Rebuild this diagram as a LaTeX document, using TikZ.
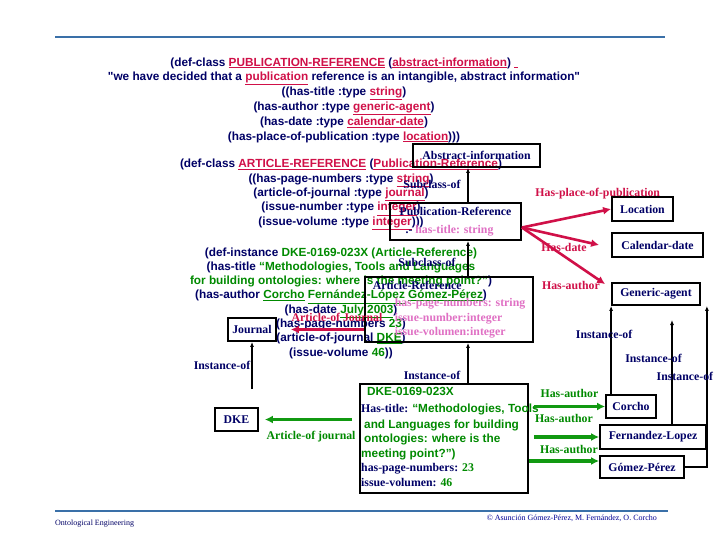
\documentclass[tikz,border=0pt]{standalone}
\usepackage{fontspec}
\setmainfont{Liberation Serif}
\setsansfont{Liberation Sans}
\usepackage{xcolor}
\usetikzlibrary{arrows.meta,calc}

\definecolor{navy}{HTML}{000066}
\definecolor{crimson}{HTML}{D01048}
\definecolor{orchid}{HTML}{E070C4}
\definecolor{leaf}{HTML}{008A00}
\definecolor{arrowgreen}{HTML}{119911}
\definecolor{ruleblue}{HTML}{3A70A8}

\newcommand{\clsref}[1]{\textcolor{crimson}{\underline{#1}}}
\newcommand{\insref}[1]{\textcolor{leaf}{\underline{#1}}}
\newcommand{\insval}[1]{\textcolor{leaf}{#1}}

\begin{document}
\begin{tikzpicture}[
        x=1pt, y=-1pt,
        code/.style={font=\sffamily\bfseries\fontsize{11.8}{14.8}\selectfont,
                text=navy, align=center, inner sep=0pt},
        box/.style={draw, line width=1.8pt, text=navy, inner sep=2pt,
                font=\bfseries\fontsize{11.8}{14.5}\selectfont},
        rel/.style={font=\bfseries\fontsize{11.8}{13}\selectfont, text=navy, inner sep=0pt},
        hasl/.style={rel, text=crimson},
        hasgl/.style={rel, text=leaf},
        inst/.style={-{Latex[length=5pt,width=4pt]}, line width=1.5pt},
        has/.style={-{Latex[length=8pt,width=8pt]}, line width=2.6pt, crimson},
        hasg/.style={-{Latex[length=8pt,width=8pt]}, line width=3.4pt, arrowgreen},
        foot/.style={font=\fontsize{8}{9}\selectfont, inner sep=0pt}
    ]
    \fill[white] (0,0) rectangle (720,540);
    \draw[ruleblue, line width=2.6pt] (55,37) -- (665,37);
    \draw[ruleblue, line width=2.6pt] (55,511) -- (668,511);

    % class definitions
    \node[code] (pubdef) at (344,100) {(def-class \clsref{PUBLICATION-REFERENCE} (\clsref{abstract-information}) \clsref{\ }\\
        \textquotedbl we have decided that a \clsref{publication} reference is an intangible, abstract information\textquotedbl\\
        ((has-title :type \clsref{string})\\
        (has-author :type \clsref{generic-agent})\\
        (has-date :type \clsref{calendar-date})\\
        (has-place-of-publication :type \clsref{location})))};
    \node[code, font=\sffamily\bfseries\fontsize{11.8}{14.3}\selectfont] (artdef) at (341,194.5) {(def-class \clsref{ARTICLE-REFERENCE} (\clsref{Publication-Reference})\\
        ((has-page-numbers :type \clsref{string})\\
        (article-of-journal :type \clsref{journal})\\
        (issue-number :type \clsref{integer})\\
        (issue-volume :type \clsref{integer})))};
    \node[code, font=\sffamily\bfseries\fontsize{11.8}{14.3}\selectfont] (instdef) at (341,303) {(def-instance \insval{DKE-0169-023X (Article-Reference)}\\
        (has-title \insval{“Methodologies, Tools and Languages}\\
        \insval{for building ontologies: where is the meeting point?”})\\
        (has-author \insref{Corcho} \insref{Fernández-López} \insref{Gómez-Pérez})\\
        (has-date \insref{July 2003})\\
        (has-page-numbers \insval{23})\\
        (article-of-journal \insref{DKE})\\
        (issue-volume \insval{46}))};

    % concepts
    \node[box, minimum width=127pt, minimum height=23pt] (absinfo) at (476.5,155.5) {Abstract-information};
    \node[box, align=left, minimum width=131pt, minimum height=37pt] (pubref) at (455.5,221.5)
        {Publication-Reference\\[3pt]\hspace{6pt}.- \textcolor{orchid}{has-title: string}};
    \node[box, align=left, minimum width=168pt, minimum height=65pt] (article) at (449,309.5)
        {Article-Reference\\[3pt]
        \hspace{22pt}\textcolor{orchid}{has-page-numbers: string}\\
        \hspace{22pt}\textcolor{orchid}{issue-number:integer}\\
        \hspace{22pt}\textcolor{orchid}{issue-volumen:integer}};
    \node[box, minimum width=48pt, minimum height=23pt] (journal) at (252,329.5) {Journal};
    \node[box, minimum width=61pt, minimum height=24pt] (loc) at (642.5,209) {Location};
    \node[box, minimum width=91pt, minimum height=24pt] (cal) at (657.5,245) {Calendar-date};
    \node[box, minimum width=88pt, minimum height=22pt] (ga) at (656,294) {Generic-agent};

    % instances
    \node[box, minimum width=43pt, minimum height=23pt] (dke) at (236.5,419.5) {DKE};
    \node[box, minimum width=168pt, minimum height=109pt] (dkebox) at (444,438.5) {};
    \node[rel, anchor=north west, align=left, font=\bfseries\fontsize{11.8}{14.5}\selectfont] (dketext) at (361,387)
        {\hspace{6pt}{\sffamily\insval{DKE-0169-023X}}\\[3pt]
        Has-title: {\sffamily\insval{“Methodologies, Tools}}\\[1pt]
        \hspace{3pt}{\sffamily\insval{and Languages for building}}\\
        \hspace{3pt}{\sffamily\insval{ontologies: where is the}}\\
        {\sffamily\insval{meeting point?”)}}\\
        has-page-numbers: \insval{23}\\
        issue-volumen: \insval{46}};
    \node[box, minimum width=50pt, minimum height=23pt] (corcho) at (631,406.5) {Corcho};
    \node[box, minimum width=106pt, minimum height=24pt] (fl) at (653,437) {Fernandez-Lopez};
    \node[box, minimum width=84pt, minimum height=22pt] (gp) at (642,467) {Gómez-Pérez};

    % taxonomy
    \coordinate (spine) at (468,0);
    \draw[inst] (pubref.north -| spine) -- node[rel, pos=.53, xshift=-36pt] (sub1) {Subclass-of} (absinfo.south -| spine);
    \draw[inst] (article.north -| spine) -- node[rel, pos=.4, xshift=-41pt] (sub2) {Subclass-of} (pubref.south -| spine);
    \draw[inst] (dkebox.north -| spine) -- node[rel, pos=.19, xshift=-36pt] (inst1) {Instance-of} (article.south -| spine);
    \draw[inst] ($(dke.north -| journal.south)+(0,-18)$) -- node[rel, pos=.51, xshift=-30pt] (inst2) {Instance-of} (journal.south);

    % slots of publication-reference
    \draw[has] ([yshift=-6pt]pubref.east) -- node[hasl, pos=.85, yshift=18pt] (hplace) {Has-place-of-publication} (loc.west);
    \draw[has] ([yshift=-6pt]pubref.east) -- node[hasl, pos=.545, yshift=-10pt] (hdate) {Has-date} ([xshift=-12pt]cal.west);
    \draw[has] ([yshift=-6pt]pubref.east) -- node[hasl, pos=.59, yshift=-25pt] (hauthor) {Has-author} ([xshift=-6pt,yshift=-2pt]ga.north west);
    \draw[has] (journal.east -| article.west) -- node[hasl, pos=.37, yshift=12pt] (artjour) {Article-of Journal} ([xshift=14pt]journal.east);

    % slots of the instance
    \draw[hasg] ($(dke.east -| dkebox.west)+(-7,0)$) -- node[hasgl, pos=.47, yshift=-17pt] (artjour2) {Article-of journal} ([xshift=6pt]dke.east);
    \draw[hasg] ($(corcho.west -| dkebox.east)+(5,0)$) -- node[hasgl, pos=.5, yshift=13pt] (ha1) {Has-author} (corcho.west);
    \draw[hasg] ($(fl.west -| dkebox.east)+(5,0)$) -- node[hasgl, pos=.46, yshift=19pt] (ha2) {Has-author} (fl.west);
    \draw[hasg] ($(gp.west -| dkebox.east)+(0,-6)$) -- node[hasgl, pos=.57, yshift=12pt] (ha3) {Has-author} ([yshift=6pt]gp.west);

    % authors are agents
    \coordinate (flup) at (672,320);
    \draw[inst] (corcho.north -| ga.south west) -- node[rel, pos=.68, xshift=-7pt] (insta) {Instance-of} (ga.south west);
    \draw[inst] (fl.north -| flup) -- node[rel, pos=.63, xshift=-18.5pt] (instb) {Instance-of} (flup);
    \draw[inst] (gp.east) -| node[rel, pos=.78, xshift=-22pt] (instc) {Instance-of} ([xshift=6pt]ga.south east);

    \node[foot, anchor=west, text=navy] (course) at (55,524) {Ontological Engineering};
    \node[foot, anchor=east, text=navy!70!blue] (credits) at (657,518) {© Asunción Gómez-Pérez, M. Fernández, O. Corcho};
\end{tikzpicture}
\end{document}
